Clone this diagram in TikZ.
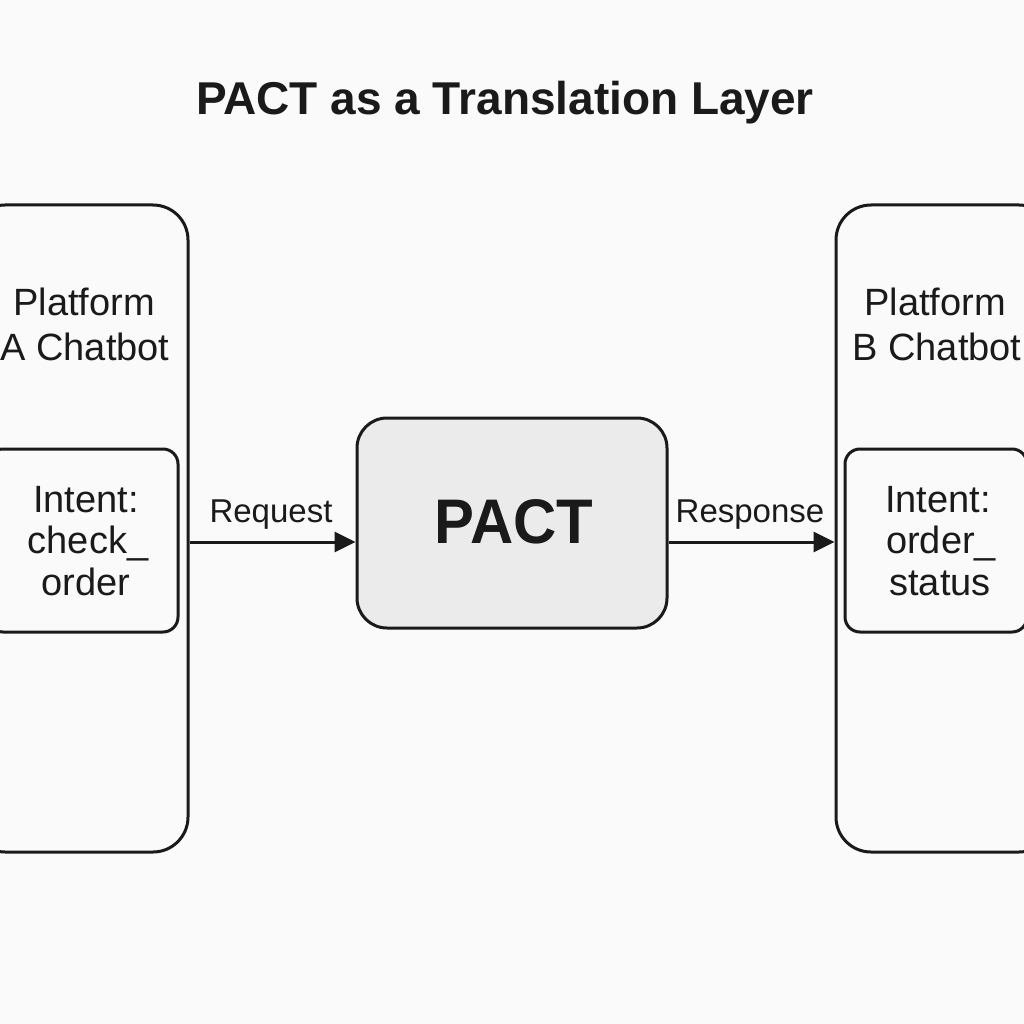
\documentclass[tikz,border=0pt]{standalone}
\usepackage{fontspec}
\setmainfont{Liberation Sans}
\usetikzlibrary{arrows.meta}
\definecolor{bg}{HTML}{FAFAFA}
\definecolor{ink}{HTML}{1A1A1A}
\definecolor{pactfill}{HTML}{EBEBEB}
\begin{document}
\begin{tikzpicture}[x=1pt,y=-1pt,
  outer/.style={draw=ink,line width=3pt,rounded corners=35pt,inner sep=0pt},
  inner/.style={draw=ink,line width=3pt,rounded corners=15pt,inner sep=0pt},
  pactbox/.style={draw=ink,line width=3pt,rounded corners=30pt,fill=pactfill,inner sep=0pt},
  body/.style={anchor=base,text=ink,inner sep=0pt,font=\fontsize{38}{44}\selectfont},
  lbl/.style={anchor=base,text=ink,inner sep=0pt,font=\fontsize{33}{38}\selectfont},
  arr/.style={draw=ink,line width=3pt,-{Triangle[length=21pt,width=20pt]}}]
\useasboundingbox (0,0) rectangle (1024,1024);
\fill[bg] (0,0) rectangle (1024,1024);
\clip (0,0) rectangle (1024,1024);
% title
\node[anchor=base,text=ink,inner sep=0pt,font=\fontsize{46}{50}\selectfont\bfseries] (title) at (505,115) {PACT as a Translation Layer};
% left platform
\node[outer,minimum width=218pt,minimum height=647pt] (lbox) at (79,528.5) {};
\node[inner,minimum width=190pt,minimum height=183pt] (lint) at (83,540.5) {};
% right platform
\node[outer,minimum width=218pt,minimum height=647pt] (rbox) at (945,528.5) {};
\node[inner,minimum width=182pt,minimum height=183pt] (rint) at (936,540.5) {};
% pact
\node[pactbox,minimum width=310pt,minimum height=210pt] (pact) at (512,523) {};
\node[anchor=base,text=ink,inner sep=0pt,font=\fontsize{63}{70}\selectfont\bfseries] (pacttxt) at (514,543) {\scalebox{0.95}[1]{PACT}};
% texts
\node[body] (la1) at (84,315) {Platform};
\node[body] (la2) at (85,360) {A Chatbot};
\node[body] (li1) at (86,512) {Intent:};
\node[body] (li2) at (88,553) {check\_};
\node[body] (li3) at (86,595) {order};
\node[body] (rb1) at (935,315) {Platform};
\node[body] (rb2) at (937,360) {B Chatbot};
\node[body] (ri1) at (938,512) {Intent:};
\node[body] (ri2) at (941,553) {order\_};
\node[body] (ri3) at (940,595) {status};
% arrows
\coordinate (ay) at (0,542);
\draw[arr] (lbox.east |- ay) -- (pact.west |- ay);
\draw[arr] (pact.east |- ay) -- (rbox.west |- ay);
\node[lbl] (req) at (271,522) {Request};
\node[lbl] (resp) at (750,522) {Response};
\end{tikzpicture}
\end{document}
